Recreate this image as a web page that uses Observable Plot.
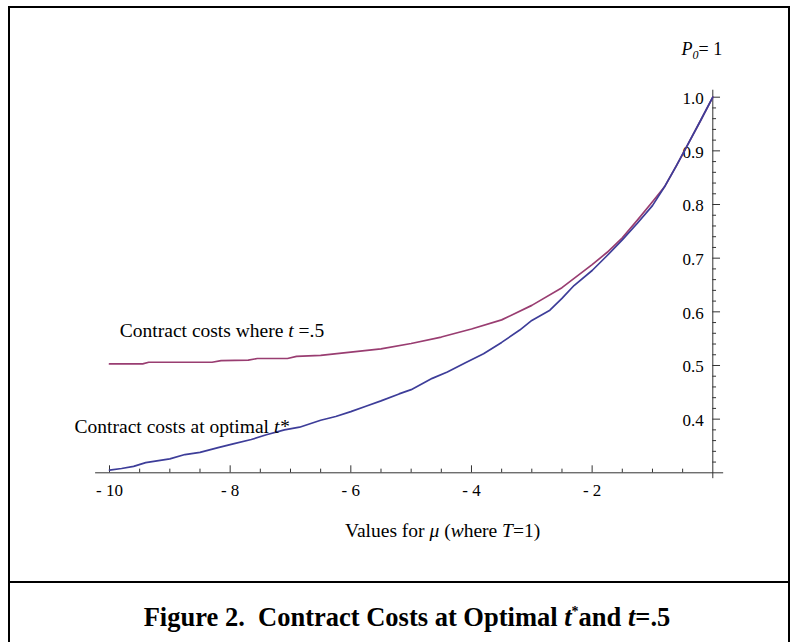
<!DOCTYPE html>
<html><head><meta charset="utf-8">
<script src="https://cdn.jsdelivr.net/npm/d3@7"></script>
<script src="https://cdn.jsdelivr.net/npm/@observablehq/plot@0.6"></script>
<style>
html,body{margin:0;padding:0;background:#fff;}
body{width:792px;height:642px;position:relative;overflow:hidden;font-family:"Liberation Serif","Times New Roman",serif;}
#frame{position:absolute;left:8px;top:6px;width:782px;height:700px;border:2px solid #000;box-sizing:border-box;}
#sep{position:absolute;left:8px;top:581px;width:782px;height:2px;background:#000;}
#chart{position:absolute;left:0;top:0;}
#caption{position:absolute;left:11px;width:792px;top:602px;text-align:center;font-weight:bold;font-size:26.5px;line-height:30px;white-space:pre;}
#caption sup{font-size:14px;vertical-align:10px;line-height:0;}
</style></head><body>
<div id="frame"></div><div id="sep"></div>
<div id="chart"></div>
<div id="caption">Figure 2.  Contract Costs at Optimal <i>t</i><sup>*</sup>and <i>t</i>=.5</div>
<script>
// Contract costs where t = .5
const muHalf   = [-10, -9.45, -9.35, -8.3, -8.15, -7.7, -7.55, -7.05, -6.9, -6.5, -6.0, -5.5, -5.0, -4.5, -4.0, -3.5, -3.0, -2.5, -2.0, -1.75, -1.5, -1.25, -1.0, -0.8, -0.6, -0.4, -0.2, 0];
const costHalf = [0.503, 0.503, 0.506, 0.506, 0.509, 0.510, 0.513, 0.513, 0.517, 0.519, 0.525, 0.531, 0.541, 0.553, 0.568, 0.585, 0.612, 0.645, 0.688, 0.711, 0.738, 0.771, 0.805, 0.833, 0.873, 0.915, 0.957, 1.0];
// Contract costs at optimal t*
const muOpt   = [-10, -9.8, -9.6, -9.4, -9.0, -8.75, -8.5, -8.2, -7.95, -7.65, -7.4, -7.1, -6.85, -6.5, -6.25, -6.0, -5.75, -5.5, -5.2, -5.0, -4.65, -4.4, -4.1, -3.8, -3.5, -3.2, -3.0, -2.7, -2.5, -2.3, -2.0, -1.75, -1.5, -1.25, -1.0, -0.8, -0.6, -0.4, -0.2, 0];
const costOpt = [0.305, 0.308, 0.312, 0.319, 0.326, 0.334, 0.338, 0.347, 0.354, 0.362, 0.371, 0.380, 0.385, 0.398, 0.405, 0.414, 0.424, 0.434, 0.447, 0.455, 0.476, 0.488, 0.505, 0.522, 0.543, 0.566, 0.584, 0.603, 0.625, 0.649, 0.677, 0.705, 0.734, 0.765, 0.798, 0.833, 0.873, 0.915, 0.957, 1.0];

const xMajorTicks = [-10, -8, -6, -4, -2];
const xMinorTicks = [-9.5, -9, -8.5, -7.5, -7, -6.5, -5.5, -5, -4.5, -3.5, -3, -2.5, -1.5, -1, -0.5];
const yMajorTicks = [0.4, 0.5, 0.6, 0.7, 0.8, 0.9, 1.0];
const yMinorTicks = [0.32, 0.34, 0.36, 0.38, 0.42, 0.44, 0.46, 0.48, 0.52, 0.54, 0.56, 0.58, 0.62, 0.64, 0.66, 0.68, 0.72, 0.74, 0.76, 0.78, 0.82, 0.84, 0.86, 0.88, 0.92, 0.94, 0.96, 0.98];
const xTickLabels = ["- 10", "- 8", "- 6", "- 4", "- 2"];
const yTickLabels = ["0.4", "0.5", "0.6", "0.7", "0.8", "0.9", "1.0"];

const half = muHalf.map((m, i) => ({mu: m, cost: costHalf[i]}));
const opt = muOpt.map((m, i) => ({mu: m, cost: costOpt[i]}));
const axisColor = "#333";

const plot = Plot.plot({
  width: 792, height: 582,
  marginLeft: 109, marginRight: 79.7, marginTop: 96.7, marginBottom: 109.7,
  x: {domain: [-10, 0], axis: null},
  y: {domain: [0.3, 1.0], axis: null},
  style: {fontFamily: "'Liberation Serif','Times New Roman',serif", fontSize: "17px", background: "transparent", color: "#000", overflow: "visible"},
  marks: [
    Plot.ruleY([0.3], {x1: -10.23, x2: 0.18, stroke: axisColor, strokeWidth: 1}),
    Plot.ruleX([0], {y1: 0.289, y2: 1.013, stroke: axisColor, strokeWidth: 1}),
    Plot.ruleX(xMajorTicks, {x: d => d, y1: 0.3, y2: 0.313, stroke: axisColor}),
    Plot.ruleX(xMinorTicks, {x: d => d, y1: 0.3, y2: 0.3068, stroke: axisColor}),
    Plot.ruleY(yMajorTicks, {y: d => d, x1: 0, x2: 0.128, stroke: axisColor}),
    Plot.ruleY(yMinorTicks, {y: d => d, x1: 0, x2: 0.062, stroke: axisColor}),
    Plot.text(xMajorTicks, {x: d => d, y: 0.3, text: (d, i) => xTickLabels[i], dy: 18, fill: "#000"}),
    Plot.text(yMajorTicks, {x: 0, y: d => d, text: (d, i) => yTickLabels[i], textAnchor: "end", dx: -9, dy: 1.5, fill: "#000"}),
    Plot.line(half, {x: "mu", y: "cost", stroke: "#993d71", strokeWidth: 1.7}),
    Plot.line(opt, {x: "mu", y: "cost", stroke: "#3d3d99", strokeWidth: 1.7})
  ]
});
document.getElementById("chart").appendChild(plot);

const sx = plot.scale("x"), sy = plot.scale("y");
const svg = d3.select(plot);
const ann = svg.append("g").attr("font-family", "'Liberation Serif','Times New Roman',serif").attr("font-size", 19.5).attr("fill", "#000").attr("text-anchor", "start");

const t1 = ann.append("text").attr("x", sx.apply(-9.82)).attr("y", sy.apply(0.553));
t1.append("tspan").text("Contract costs where ");
t1.append("tspan").attr("font-style", "italic").text("t");
t1.append("tspan").text(" =.5");

const t2 = ann.append("text").attr("x", sx.apply(-10.57)).attr("y", sy.apply(0.373));
t2.append("tspan").text("Contract costs at optimal ");
t2.append("tspan").attr("font-style", "italic").text("t*");

const t3 = ann.append("text").attr("x", sx.apply(-4.47)).attr("y", sy.apply(0.18)).attr("text-anchor", "middle");
t3.append("tspan").text("Values for ");
t3.append("tspan").attr("font-style", "italic").text("\u03bc");
t3.append("tspan").text(" (");
t3.append("tspan").attr("font-style", "italic").text("w");
t3.append("tspan").text("here ");
t3.append("tspan").attr("font-style", "italic").text("T");
t3.append("tspan").text("=1)");

const t4 = ann.append("text").attr("x", sx.apply(-0.51)).attr("y", sy.apply(1.0786)).attr("font-size", 18);
t4.append("tspan").attr("font-style", "italic").text("P");
t4.append("tspan").attr("font-style", "italic").attr("font-size", 12).attr("dy", 4).text("0");
t4.append("tspan").attr("dy", -4).text("= 1");
</script>
</body></html>
